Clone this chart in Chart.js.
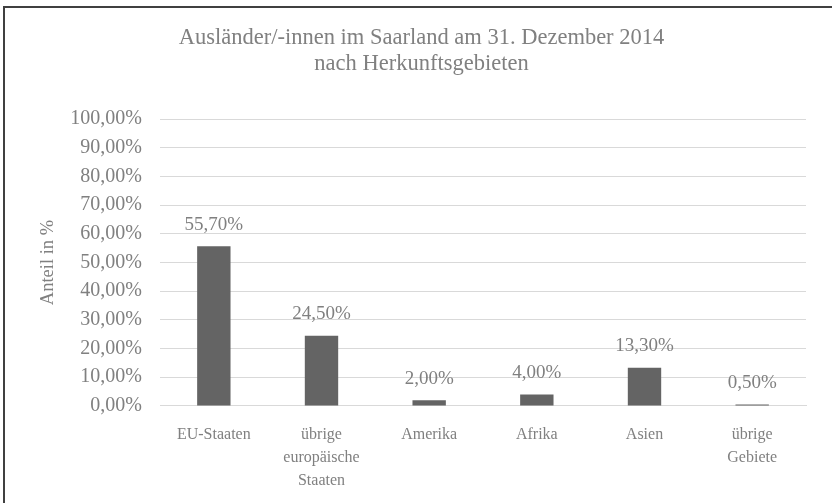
<!DOCTYPE html>
<html>
<head>
<meta charset="utf-8">
<script src="https://cdn.jsdelivr.net/npm/chart.js@4"></script>
<style>
    body { margin: 0; background: #fff; }
    #wrap { position: relative; width: 832px; height: 503px; }
    #frame {
        position: absolute; left: 3px; top: 6px; right: 0; bottom: 0;
        border-top: 2px solid #404040; border-left: 2px solid #404040;
        pointer-events: none;
    }
</style>
</head>
<body>
<div id="wrap">
    <canvas id="chart" width="832" height="503"></canvas>
    <div id="frame"></div>
</div>
<script>
const categories = [
    "EU-Staaten",
    ["übrige", "europäische", "Staaten"],
    "Amerika",
    "Afrika",
    "Asien",
    ["übrige", "Gebiete"]
];
const shares = [55.7, 24.5, 2.0, 4.0, 13.3, 0.5];
const yMin = 0;
const yMax = 100;
const yStep = 10;

const serif = "'Liberation Serif', 'DejaVu Serif', serif";
const textGray = "#808080";

function pct(v) {
    return v.toFixed(2).replace(".", ",") + "%";
}

// value labels above the bars
const barLabels = {
    id: "barLabels",
    afterDatasetsDraw(chart) {
        const ctx = chart.ctx;
        const meta = chart.getDatasetMeta(0);
        ctx.save();
        ctx.font = "19px " + serif;
        ctx.fillStyle = textGray;
        ctx.textAlign = "center";
        ctx.textBaseline = "bottom";
        meta.data.forEach((bar, i) => {
            ctx.fillText(pct(shares[i]), bar.x, bar.y - 12);
        });
        ctx.restore();
    }
};

new Chart(document.getElementById("chart"), {
    type: "bar",
    data: {
        labels: categories,
        datasets: [{
            label: "Anteil",
            data: shares,
            backgroundColor: "#646464",
            categoryPercentage: 1,
            barPercentage: 0.31
        }]
    },
    options: {
        responsive: false,
        animation: false,
        layout: { padding: { left: 37, right: 26, top: 8, bottom: 2 } },
        plugins: {
            legend: { display: false },
            tooltip: { enabled: false },
            title: {
                display: true,
                text: ["Ausländer/-innen im Saarland am 31. Dezember 2014", "nach Herkunftsgebieten"],
                color: textGray,
                font: { family: serif, size: 22.5, weight: "normal", lineHeight: 1.16 },
                padding: { top: 17, bottom: 42 }
            }
        },
        scales: {
            x: {
                grid: { display: false },
                border: { color: "#d9d9d9" },
                ticks: {
                    color: textGray,
                    font: { family: serif, size: 16, lineHeight: 1.44 },
                    padding: 9,
                    maxRotation: 0
                }
            },
            y: {
                min: yMin,
                max: yMax,
                afterFit: scale => { scale.width = 123; },
                ticks: {
                    stepSize: yStep,
                    color: textGray,
                    font: { family: serif, size: 20 },
                    padding: 18,
                    callback: v => pct(v)
                },
                grid: { color: "#d9d9d9", drawTicks: false },
                border: { display: false },
                title: {
                    display: true,
                    text: "Anteil in %",
                    color: textGray,
                    font: { family: serif, size: 18.5 },
                    padding: { top: 0, bottom: 0 }
                }
            }
        }
    },
    plugins: [barLabels]
});
</script>
</body>
</html>
